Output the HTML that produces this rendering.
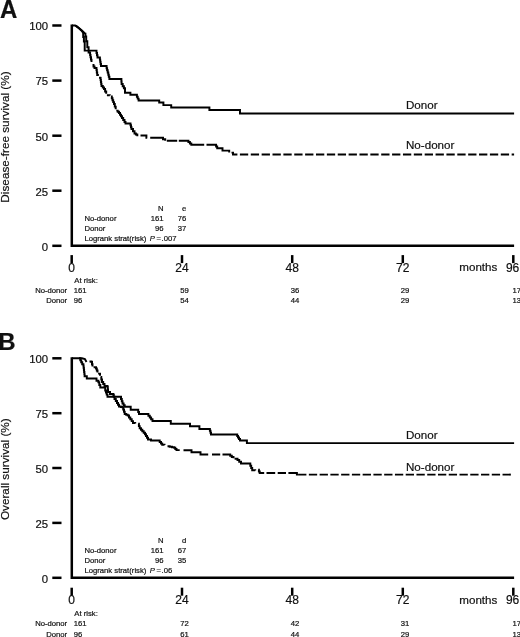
<!DOCTYPE html>
<html lang="en"><head><meta charset="utf-8"><title>Survival by donor availability</title>
<style>
html,body{margin:0;padding:0;background:#fff;}
body{width:520px;height:637px;overflow:hidden;}
svg{display:block;will-change:transform;filter:grayscale(1);font-family:"Liberation Sans",Arial,Helvetica,sans-serif;fill:#111;}
text{stroke:#111;stroke-width:0.2px;}
</style></head><body>
<svg width="520" height="637" viewBox="0 0 520 637">
<rect width="520" height="637" fill="#fff"/>
<g id="panel-a">
<path d="M71.8,24.5V245.8H514.1" fill="none" stroke="#000" stroke-width="2.5"/>
<path d="M52.3,25.5H61.5" stroke="#000" stroke-width="2.5"/>
<text x="48.1" y="30.3" text-anchor="end" font-size="11.35">100</text>
<path d="M52.3,80.6H61.5" stroke="#000" stroke-width="2.5"/>
<text x="48.1" y="85.4" text-anchor="end" font-size="11.35">75</text>
<path d="M52.3,135.7H61.5" stroke="#000" stroke-width="2.5"/>
<text x="48.1" y="140.5" text-anchor="end" font-size="11.35">50</text>
<path d="M52.3,190.7H61.5" stroke="#000" stroke-width="2.5"/>
<text x="48.1" y="195.5" text-anchor="end" font-size="11.35">25</text>
<path d="M52.3,245.8H61.5" stroke="#000" stroke-width="2.5"/>
<text x="48.1" y="250.6" text-anchor="end" font-size="11.35">0</text>
<path d="M71.7,255.1V263.1" stroke="#000" stroke-width="2.5"/>
<text x="71.7" y="271.6" text-anchor="middle" font-size="12">0</text>
<path d="M182.0,255.1V263.1" stroke="#000" stroke-width="2.5"/>
<text x="182.0" y="271.6" text-anchor="middle" font-size="12">24</text>
<path d="M292.2,255.1V263.1" stroke="#000" stroke-width="2.5"/>
<text x="292.2" y="271.6" text-anchor="middle" font-size="12">48</text>
<path d="M402.8,255.1V263.1" stroke="#000" stroke-width="2.5"/>
<text x="402.8" y="271.6" text-anchor="middle" font-size="12">72</text>
<path d="M513.3,255.1V263.1" stroke="#000" stroke-width="2.5"/>
<text x="512.6" y="271.6" text-anchor="middle" font-size="12">96</text>
<text x="459.3" y="271.4" font-size="11.6">months</text>
<text transform="translate(0,17.8) scale(1,1.08)" font-size="24" font-weight="bold">A</text>
<text transform="translate(8.8,137.0) rotate(-90)" text-anchor="middle" font-size="11.75">Disease-free survival (%)</text>
<text x="163.6" y="211.0" text-anchor="end" font-size="7.7">N</text>
<text x="186.2" y="211.0" text-anchor="end" font-size="7.7">e</text>
<text x="84.4" y="220.8" font-size="7.7">No-donor</text>
<text x="163.6" y="220.8" text-anchor="end" font-size="7.7">161</text>
<text x="186.2" y="220.8" text-anchor="end" font-size="7.7">76</text>
<text x="84.4" y="230.8" font-size="7.7">Donor</text>
<text x="163.6" y="230.8" text-anchor="end" font-size="7.7">96</text>
<text x="186.2" y="230.8" text-anchor="end" font-size="7.7">37</text>
<text x="84.4" y="241.0" font-size="7.7">Logrank strat(risk) <tspan font-style="italic" dx="1.2">P</tspan><tspan dx="1.6">=</tspan><tspan dx="0.6">.007</tspan></text>
<text x="74.3" y="283.3" font-size="7.7">At risk:</text>
<text x="67.2" y="293.1" text-anchor="end" font-size="7.7">No-donor</text>
<text x="73.8" y="293.1" font-size="7.7">161</text>
<text x="180.3" y="293.1" font-size="7.7">59</text>
<text x="290.7" y="293.1" font-size="7.7">36</text>
<text x="400.7" y="293.1" font-size="7.7">29</text>
<text x="512.4" y="293.1" font-size="7.7">17</text>
<text x="67.2" y="303.4" text-anchor="end" font-size="7.7">Donor</text>
<text x="73.8" y="303.4" font-size="7.7">96</text>
<text x="180.3" y="303.4" font-size="7.7">54</text>
<text x="290.7" y="303.4" font-size="7.7">44</text>
<text x="400.7" y="303.4" font-size="7.7">29</text>
<text x="512.4" y="303.4" font-size="7.7">13</text>
<path d="M72.0,25.5H75.2L77.2,27.0L79.2,28.6L81.0,30.2L82.5,31.8L83.2,33.4V37.0H83.9V41.4H84.7V50.6H96.0H96.5V52.9H97.0V55.2H97.5V57.5H99.5H99.9V59.6H100.2V61.8H100.6V63.9H101.0V66.0H106.0H106.6V68.2H107.1V70.3H107.7V72.5H108.3V74.7H108.8V76.8H109.4V79.0H121.2H121.4V81.5H121.6V84.0H122.7V86.2H123.9V88.3H125.0V90.5V92.8H130.4V94.8H136.0H136.9V96.7H137.7V98.6H138.6V100.5H159.2V102.5H163.4V105.1H171.2V107.5H209.4V110.0H240.0V113.4H514.1" fill="none" stroke="#000" stroke-width="1.95"/>
<path d="M75.8,25.6L77.8,27.1L79.8,28.7L81.6,30.3L83.4,32.0L85.2,33.8H85.4V36.5H86.2V41.2H87.3V47.2H88.6V52.5H89.6H90.1V54.9H90.5V57.2H91.0V59.6H91.5V62.0M92.5,65.0H93.5V66.5H94.5V68.0H96.5V70.0H96.8V72.5H97.2V75.0H97.9V76.0M99.0,77.6H100.3V78.0H100.6V80.0H100.9V82.0H101.2V84.0H101.5V86.0H102.8V87.5H104.0V89.0H105.1V91.4H106.2V93.8M106.9,95.2H109.8V95.4M111.0,96.4H111.8V98.3H112.5V100.2H113.2V102.1H114.0V104.0H114.8V106.6H115.7V109.2M116.3,110.6H117.7V111.8H119.0V113.0H120.0V114.7H121.0V116.3H122.0V118.0H123.2V120.0H124.5V122.0H125.5V123.5H130.0H130.5V125.3H131.0V127.2H131.5V129.0H133.0V131.2H134.5V133.5H135.9V134.4H137.3V135.3H138.3M140.5,135.5H146.0H146.4V137.7H147.2M150.2,137.7H160.8H163.0V139.2H165.2V140.7M166.8,140.7H177.2M178.8,140.7H187.0H188.4V142.0H189.9V143.4H191.3V144.7H204.2M206.5,144.7H215.0H216.1V146.4H217.2V148.2H222.5V150.6H227.8H229.2V152.6M231.5,152.6H233.0V154.4H237.4" fill="none" stroke="#000" stroke-width="1.95"/>
<path d="M239.9,154.4H514.1" fill="none" stroke="#000" stroke-width="1.95" stroke-dasharray="8.3 2.57"/>
<text x="406" y="109" font-size="11.6">Donor</text>
<text x="406" y="149.4" font-size="11.6">No-donor</text>
</g>
<g id="panel-b">
<path d="M71.8,357.3V577.8H514.1" fill="none" stroke="#000" stroke-width="2.5"/>
<path d="M52.3,358.3H61.5" stroke="#000" stroke-width="2.5"/>
<text x="48.1" y="363.1" text-anchor="end" font-size="11.35">100</text>
<path d="M52.3,413.2H61.5" stroke="#000" stroke-width="2.5"/>
<text x="48.1" y="418.0" text-anchor="end" font-size="11.35">75</text>
<path d="M52.3,468.0H61.5" stroke="#000" stroke-width="2.5"/>
<text x="48.1" y="472.8" text-anchor="end" font-size="11.35">50</text>
<path d="M52.3,522.9H61.5" stroke="#000" stroke-width="2.5"/>
<text x="48.1" y="527.7" text-anchor="end" font-size="11.35">25</text>
<path d="M52.3,577.8H61.5" stroke="#000" stroke-width="2.5"/>
<text x="48.1" y="582.6" text-anchor="end" font-size="11.35">0</text>
<path d="M71.7,587.7V595.7" stroke="#000" stroke-width="2.5"/>
<text x="71.7" y="604.2" text-anchor="middle" font-size="12">0</text>
<path d="M182.0,587.7V595.7" stroke="#000" stroke-width="2.5"/>
<text x="182.0" y="604.2" text-anchor="middle" font-size="12">24</text>
<path d="M292.2,587.7V595.7" stroke="#000" stroke-width="2.5"/>
<text x="292.2" y="604.2" text-anchor="middle" font-size="12">48</text>
<path d="M402.8,587.7V595.7" stroke="#000" stroke-width="2.5"/>
<text x="402.8" y="604.2" text-anchor="middle" font-size="12">72</text>
<path d="M513.3,587.7V595.7" stroke="#000" stroke-width="2.5"/>
<text x="512.6" y="604.2" text-anchor="middle" font-size="12">96</text>
<text x="459.3" y="604.0" font-size="11.6">months</text>
<text transform="translate(-1.8,349.8) scale(1,1)" font-size="24" font-weight="bold">B</text>
<text transform="translate(8.8,469.2) rotate(-90)" text-anchor="middle" font-size="11.75">Overall survival (%)</text>
<text x="163.6" y="543.0" text-anchor="end" font-size="7.7">N</text>
<text x="186.2" y="543.0" text-anchor="end" font-size="7.7">d</text>
<text x="84.4" y="552.8" font-size="7.7">No-donor</text>
<text x="163.6" y="552.8" text-anchor="end" font-size="7.7">161</text>
<text x="186.2" y="552.8" text-anchor="end" font-size="7.7">67</text>
<text x="84.4" y="562.8" font-size="7.7">Donor</text>
<text x="163.6" y="562.8" text-anchor="end" font-size="7.7">96</text>
<text x="186.2" y="562.8" text-anchor="end" font-size="7.7">35</text>
<text x="84.4" y="573.0" font-size="7.7">Logrank strat(risk) <tspan font-style="italic" dx="1.2">P</tspan><tspan dx="1.6">=</tspan><tspan dx="0.6">.06</tspan></text>
<text x="74.3" y="616.3" font-size="7.7">At risk:</text>
<text x="67.2" y="625.9" text-anchor="end" font-size="7.7">No-donor</text>
<text x="73.8" y="625.9" font-size="7.7">161</text>
<text x="180.3" y="625.9" font-size="7.7">72</text>
<text x="290.7" y="625.9" font-size="7.7">42</text>
<text x="400.7" y="625.9" font-size="7.7">31</text>
<text x="512.4" y="625.9" font-size="7.7">17</text>
<text x="67.2" y="636.5" text-anchor="end" font-size="7.7">Donor</text>
<text x="73.8" y="636.5" font-size="7.7">96</text>
<text x="180.3" y="636.5" font-size="7.7">61</text>
<text x="290.7" y="636.5" font-size="7.7">44</text>
<text x="400.7" y="636.5" font-size="7.7">29</text>
<text x="512.4" y="636.5" font-size="7.7">13</text>
<path d="M72.0,358.3H79.3H80.3V360.3H81.2V362.2H82.2V364.2H83.4V365.6H83.6V367.7H83.9V369.8H84.1V372.0H84.4V374.1H84.6V376.2H86.8V378.4H95.3H96.5V380.8H98.4V382.3H99.3V384.9H100.3V387.4H104.5H105.2V390.5H106.0V392.6H106.7V394.6H107.5V396.7H120.3H121.0V399.0H121.8V401.2H122.5V403.5H123.6V405.1H124.7V406.7H130.7V409.8H137.5H138.2V411.9H139.0V413.9H147.0H148.4V415.7H149.8V417.4H151.1V419.2H152.5V421.0H170.6H170.8V423.7H190.0V426.3H199.4V429.0H209.4H209.9V430.8H210.5V432.7H211.0V434.5H236.3H237.2V436.0H238.0V437.5H239.0V438.9H240.0V440.4H246.9V443.1H514.1" fill="none" stroke="#000" stroke-width="1.95"/>
<path d="M79.0,358.3H82.0L84.9,359.0L86.5,362.0M89.5,361.5H91.5V362.0H92.0V364.2H92.5V366.5M93.6,367.3H96.0V368.5H96.8V370.5H97.5V372.5M98.1,373.6H100.0V375.8M100.6,377.0H101.3V379.5H102.0V382.0H103.2V384.0H104.5V386.0H107.5V387.0H107.8V389.5H108.0V392.0H110.0V394.0H113.0V394.5H113.8V396.8H114.5V399.0H115.8V401.0H117.0V403.0H118.0V404.8H119.0V406.5H120.8V406.9H122.5V407.3H123.2V409.5H124.0V411.8H124.7V414.0H126.2V414.8H127.7V415.5H129.0V417.4H130.3V419.2H131.7V421.1H133.0V423.0H135.2V423.5M138.2,423.8H138.9V426.1H139.7V428.3H141.0V429.8H142.3V431.3H143.7V432.8H145.0V434.3H146.0V436.0H147.0V437.8H148.0V439.5H151.0V440.5H158.5H159.7V441.9H161.0V443.4H162.2V444.8H164.5V445.0M167.5,446.3H169.7V446.8H172.0V447.2H174.2V447.7H175.3V448.9H176.5V450.1H179.7M183.5,450.2H191.0H191.5V452.3H200.0H200.5V454.5H208.2M212.0,454.5H220.2M222.5,454.5H228.5H230.2V455.8H231.8V457.0H233.5V458.3M234.6,458.8H237.5V460.0H239.2V461.7H241.0V463.4H249.3H250.3V465.7H251.2V468.0H252.2V470.3H255.2V470.5M258.2,469.8H258.9V471.4H259.7V472.9H264.2M266.5,472.9H275.2M277.7,472.9H286.0M288.4,472.9H296.6H296.9V474.6H298.1" fill="none" stroke="#000" stroke-width="1.95"/>
<path d="M298.1,474.6H513.2" fill="none" stroke="#000" stroke-width="1.95" stroke-dasharray="8.3 2.46"/>
<text x="406" y="438.8" font-size="11.6">Donor</text>
<text x="406" y="471" font-size="11.6">No-donor</text>
</g>
</svg>
</body></html>
